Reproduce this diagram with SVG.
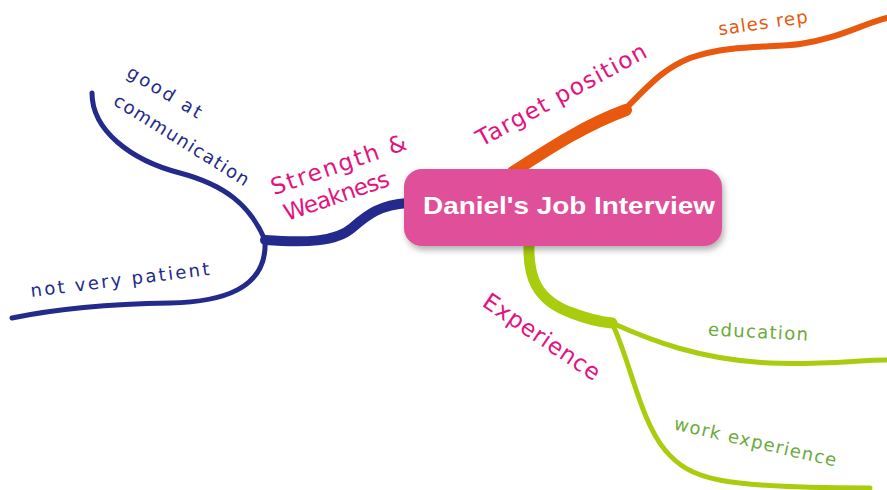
<svg xmlns="http://www.w3.org/2000/svg" width="887" height="490" viewBox="0 0 887 490">
<style>
.br{fill:none;stroke-linecap:round;stroke-linejoin:round}
.blue{stroke:#232a8c}
.orange{stroke:#e8580e}
.green{stroke:#a9cc0f}
.lbl{font-family:"DejaVu Sans","Liberation Sans",sans-serif;text-anchor:middle;dominant-baseline:middle}
.main{fill:#e2137f;font-size:23px}
.sub{font-size:18px}
.title{font-family:"Liberation Sans",Arial,sans-serif;font-weight:bold;font-size:24px;fill:#ffffff;text-anchor:middle;dominant-baseline:middle}
</style>
<defs>
<filter id="sh" x="-10%" y="-20%" width="120%" height="150%">
<feDropShadow dx="2" dy="4" stdDeviation="3" flood-color="#000" flood-opacity="0.3"/>
</filter>
</defs>
<g id="connectors">
<path class="br blue" stroke-width="10" d="M408,203 C380,205 368,214 352,228 C336,242 305,243 265,240"/>
<path class="br blue" stroke-width="5" d="M265,240 C250,205 225,185 180,173 C130,160 92,130 92,93"/>
<path class="br blue" stroke-width="5" d="M265,240 C268,290 220,302 170,303 C110,304 60,308 12,318"/>
<path class="br orange" stroke-width="12" d="M513,172 C550,148 585,125 626,110"/>
<path class="br orange" stroke-width="6" d="M622,112 C645,90 660,70 690,58 C730,44 770,48 800,44 C840,38 860,25 887,18"/>
<path class="br green" stroke-width="11" d="M529,244 C528,275 535,300 572,313 C590,320 600,322 612,323"/>
<path class="br green" stroke-width="5" d="M612,323 C650,340 700,360 770,363 C820,365 860,360 887,360"/>
<path class="br green" stroke-width="5" d="M612,323 C630,360 640,420 665,450 C690,480 720,488 870,488"/>
</g>
<g id="center">
<rect x="404" y="169" width="318" height="77" rx="18" fill="#e0509a" filter="url(#sh)"/>
<text class="title" x="569" y="208" textLength="292" lengthAdjust="spacingAndGlyphs">Daniel's Job Interview</text>
</g>
<g id="strength">
<text class="lbl main" transform="translate(339,166) rotate(-19)" textLength="142">Strength &amp;</text>
<text class="lbl main" transform="translate(337,197) rotate(-19)" textLength="110">Weakness</text>
</g>
<g id="good">
<text class="lbl sub" fill="#232a8c" transform="translate(164,93) rotate(31)" textLength="84">good at</text>
<text class="lbl sub" fill="#232a8c" transform="translate(181,141) rotate(32)" textLength="156">communication</text>
</g>
<g id="patient">
<text class="lbl sub" fill="#232a8c" transform="translate(120,281) rotate(-7)" textLength="180">not very patient</text>
</g>
<g id="target">
<text class="lbl main" transform="translate(562,96) rotate(-28.5)" textLength="190">Target position</text>
</g>
<g id="sales">
<text class="lbl sub" fill="#e8580e" transform="translate(763,24) rotate(-8)" textLength="90">sales rep</text>
</g>
<g id="experience">
<text class="lbl main" transform="translate(541,338) rotate(34)" textLength="136">Experience</text>
</g>
<g id="education">
<text class="lbl sub" fill="#6aab3a" transform="translate(758,333) rotate(3)" textLength="100">education</text>
</g>
<g id="work">
<text class="lbl sub" fill="#6aab3a" transform="translate(755,443) rotate(13)" textLength="166">work experience</text>
</g>
</svg>
